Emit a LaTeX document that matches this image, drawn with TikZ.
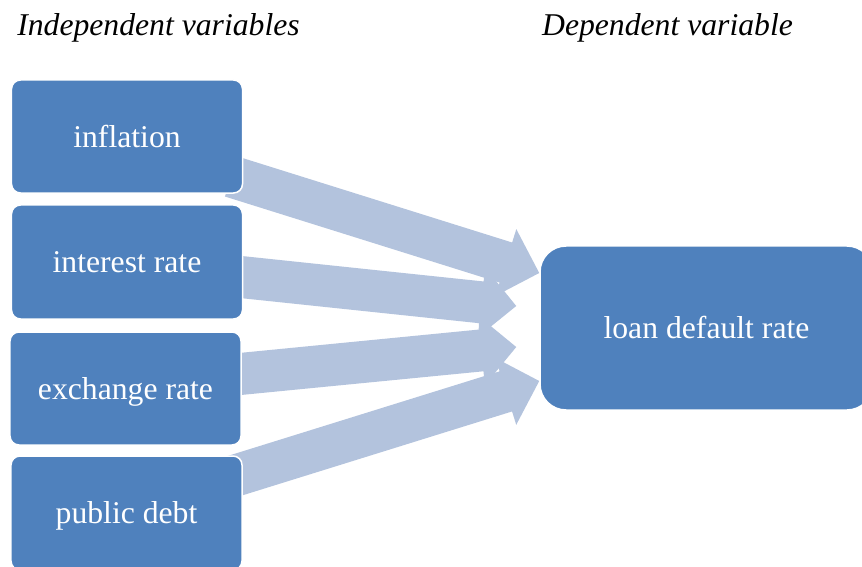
\documentclass[tikz,border=0pt]{standalone}
\usepackage{fontspec}
\setmainfont{Liberation Serif}
\usetikzlibrary{calc,backgrounds}
\definecolor{boxblue}{HTML}{4F81BD}
\definecolor{arrowblue}{HTML}{B3C3DD}
\newcommand\blockarr[2]{%
  \coordinate (hb) at ($(#2)!35bp!(#1)$);
  \fill[arrowblue] ($(#1)!21bp!90:(#2)$) -- ($(hb)!21bp!90:(#2)$) -- ($(hb)!35bp!90:(#2)$)
    -- (#2) -- ($(hb)!35bp!-90:(#2)$) -- ($(hb)!21bp!-90:(#2)$) -- ($(#1)!21bp!-90:(#2)$) -- cycle;
}
\tikzset{
  box/.style={fill=boxblue, draw=white, line width=1.5bp, rounded corners=9bp, text=white,
    font=\fontsize{31.8pt}{38pt}\selectfont, inner sep=0pt, text height=23.5bp, text depth=1.6bp,
    minimum width=231bp, minimum height=113bp},
  title/.style={font=\fontsize{31.8pt}{38pt}\selectfont\itshape, anchor=base, inner sep=0pt}
}
\begin{document}
\begin{tikzpicture}[x=1bp,y=-1bp]
\clip (0,0) rectangle (862,567);
% boxes
\node[box] (inf) at (127,136.5) {inflation};
\node[box, minimum height=114bp] (int) at (127,262) {interest rate};
\node[box] (exc) at (125.5,388.5) {exchange rate};
\node[box, minimum height=114bp] (pub) at (126.5,513) {public debt};
\node[box, minimum width=333bp, minimum height=164bp, rounded corners=26bp] (ldr) at (706.5,328) {loan default rate};
% arrow ends
\coordinate (a1s) at ($(inf.east)+(-12,40)$);
\coordinate (a1e) at ($(ldr.west)+(0,-55)$);
\coordinate (a2s) at ($(int.east)+(-12,14)$);
\coordinate (a2e) at ($(ldr.west)+(-23,-22)$);
\coordinate (a3s) at ($(exc.east)+(-12,-13.5)$);
\coordinate (a3e) at ($(ldr.west)+(-23,19)$);
\coordinate (a4s) at ($(pub.east)+(-12,-36)$);
\coordinate (a4e) at ($(ldr.west)+(0,53)$);
\begin{pgfonlayer}{background}
\blockarr{a1s}{a1e}
\blockarr{a2s}{a2e}
\blockarr{a3s}{a3e}
\blockarr{a4s}{a4e}
\end{pgfonlayer}
% titles
\node[title] (tind) at (158.5,36) {Independent variables};
\node[title] (tdep) at (667.5,36) {Dependent variable};
\end{tikzpicture}
\end{document}
